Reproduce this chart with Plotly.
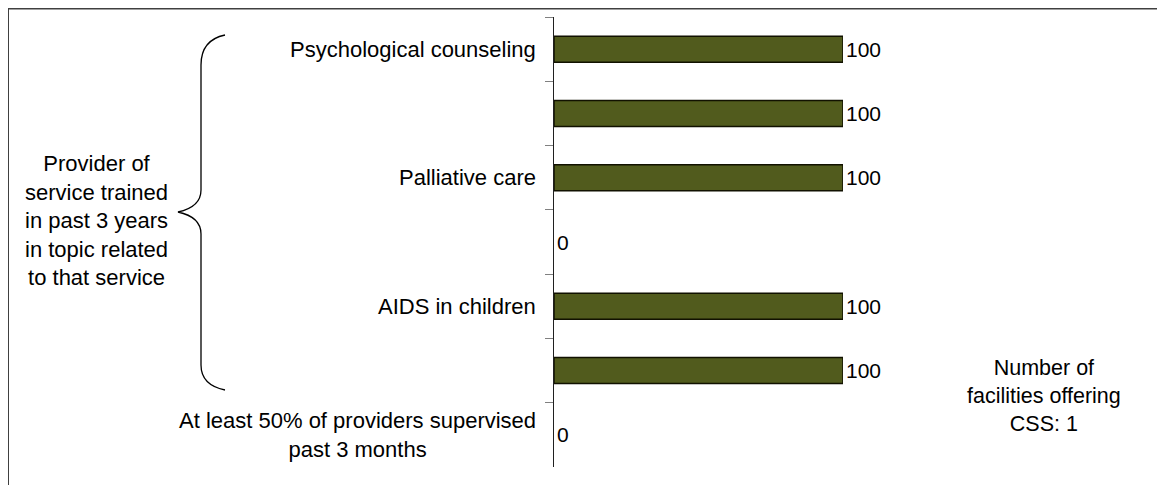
from plotly import graph_objs as go

# Datos
categorias = ["psico", "vacio1", "paliativo", "vacio2", "sida_ninos", "vacio3", "supervision"]
etiquetas = [
    "Psychological counseling",
    "",
    "Palliative care",
    "",
    "AIDS in children",
    "",
    "At least 50% of providers supervised<br>past 3 months",
]
valores = [100, 100, 100, 0, 100, 100, 0]
texto_llave = "Provider of<br>service trained<br>in past 3 years<br>in topic related<br>to that service"
texto_nota = "Number of<br>facilities offering<br>CSS: 1"

# La página añade 8 px de margen al cuerpo: se compensa aquí
DESPL = 8
ANCHO, ALTO = 1165 - DESPL, 485 - DESPL
M_IZQ, M_DER, M_SUP, M_INF = 546, 322, 9, 18
FUENTE = "Arial, Liberation Sans, sans-serif"


def px_a_x(px):
    return (px - DESPL - M_IZQ) / (ANCHO - M_IZQ - M_DER)


def px_a_y(py):
    return (ALTO - M_INF - (py - DESPL)) / (ALTO - M_SUP - M_INF)


fig = go.Figure(
    layout=go.Layout(
        width=ANCHO,
        height=ALTO,
        margin={"l": M_IZQ, "r": M_DER, "t": M_SUP, "b": M_INF},
        paper_bgcolor="white",
        plot_bgcolor="white",
        showlegend=False,
        bargap=0.595,
        font={"family": FUENTE, "size": 21, "color": "black"},
        xaxis={"range": [0, 100], "visible": False, "fixedrange": True},
        yaxis={
            "type": "category",
            "categoryorder": "array",
            "categoryarray": categorias,
            "autorange": "reversed",
            "showticklabels": False,
            "tickson": "boundaries",
            "ticks": "outside",
            "ticklen": 8,
            "tickcolor": "#808080",
            "showline": True,
            "linecolor": "#202020",
            "linewidth": 1,
            "showgrid": False,
            "zeroline": False,
        },
    )
)

fig.add_trace(
    go.Bar(
        x=valores,
        y=categorias,
        orientation="h",
        marker={
            "color": "#515B1D",
            "line": {"width": [1.5 if v > 0 else 0 for v in valores], "color": "#111100"},
        },
        text=[str(v) for v in valores],
        textposition="outside",
        textfont={"family": FUENTE, "size": 21, "color": "black"},
        cliponaxis=False,
        hoverinfo="skip",
    )
)

# Etiquetas de categorías
for cat, etq in zip(categorias, etiquetas):
    if etq:
        fig.add_annotation(
            x=0, xref="paper", y=cat, yref="y",
            text=etq, showarrow=False, xanchor="right", yanchor="middle",
            align="center", xshift=-16,
            font={"family": FUENTE, "size": 22, "color": "black"},
        )

# Llave
puntos = [(225, 35), (201, 40), (201, 65), (201, 190), (201, 207), (178, 212),
          (201, 217), (201, 234), (201, 365), (201, 385), (225, 390)]
p = [(px_a_x(a), px_a_y(b)) for a, b in puntos]
camino = (
    f"M {p[0][0]},{p[0][1]} Q {p[1][0]},{p[1][1]} {p[2][0]},{p[2][1]} "
    f"L {p[3][0]},{p[3][1]} Q {p[4][0]},{p[4][1]} {p[5][0]},{p[5][1]} "
    f"Q {p[6][0]},{p[6][1]} {p[7][0]},{p[7][1]} "
    f"L {p[8][0]},{p[8][1]} Q {p[9][0]},{p[9][1]} {p[10][0]},{p[10][1]}"
)
fig.add_shape(type="path", path=camino, xref="paper", yref="paper",
              line={"color": "black", "width": 1.3})

fig.add_annotation(
    x=px_a_x(96), xref="paper", y=px_a_y(220), yref="paper",
    text=texto_llave, showarrow=False, xanchor="center", yanchor="middle",
    align="center", font={"family": FUENTE, "size": 22, "color": "black"},
)

fig.add_annotation(
    x=px_a_x(1044), xref="paper", y=px_a_y(396), yref="paper",
    text=texto_nota, showarrow=False, xanchor="center", yanchor="middle",
    align="center", font={"family": FUENTE, "size": 21.5, "color": "black"},
)

# Marco recortado
fig.add_shape(type="rect", xref="paper", yref="paper",
              x0=px_a_x(8), x1=px_a_x(1175), y0=px_a_y(8.5), y1=px_a_y(500),
              line={"color": "#404040", "width": 2})

fig.write_html("out.html")
